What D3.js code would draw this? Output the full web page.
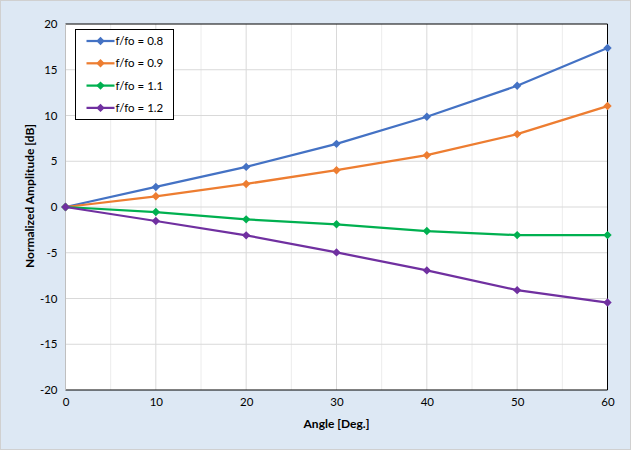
<!DOCTYPE html>
<html>
<head>
<meta charset="utf-8">
<script src="https://cdn.jsdelivr.net/npm/d3@7"></script>
<style>
  body { margin: 0; background: #fff; }
  text { font-family: Lato, "Open Sans", sans-serif; fill: #000; }
</style>
</head>
<body>
<div id="chart"></div>
<script>
(function(){

// data
var angles = [0, 10, 20, 30, 40, 50, 60];
var seriesNames = ["f/fo = 0.8", "f/fo = 0.9", "f/fo = 1.1", "f/fo = 1.2"];
var seriesColors = ["#4472c4", "#ed7d31", "#00b050", "#7030a0"];
var ampA = [0, 2.19, 4.38, 6.9, 9.86, 13.25, 17.38];
var ampB = [0, 1.17, 2.52, 4.02, 5.66, 7.96, 11.03];
var ampC = [0, -0.55, -1.35, -1.89, -2.63, -3.07, -3.07];
var ampD = [0, -1.53, -3.1, -4.96, -6.93, -9.09, -10.44];
var xTicks = [0, 10, 20, 30, 40, 50, 60];
var yTicks = [-20, -15, -10, -5, 0, 5, 10, 15, 20];

var allSeries = [ampA, ampB, ampC, ampD];

var W = 631, H = 450;
var margin = {top: 24, right: 23.5, bottom: 60, left: 65.5};
var width = W - margin.left - margin.right,
    height = 390 - margin.top;

var svg = d3.select("#chart").append("svg")
  .attr("width", W).attr("height", H);

svg.append("rect")
  .attr("x", 0.5).attr("y", 0.5)
  .attr("width", W - 1).attr("height", H - 1)
  .attr("fill", "#dde8f4")
  .attr("stroke", "#d0d0d0");

var g = svg.append("g")
  .attr("transform", "translate(" + margin.left + "," + margin.top + ")");

var x = d3.scaleLinear().domain([0, 60]).range([0, width]);
var y = d3.scaleLinear().domain([-20, 20]).range([height, 0]);

g.append("rect")
  .attr("width", width).attr("height", height)
  .attr("fill", "#fff");

// minor vertical grid
g.selectAll(".minor")
  .data(d3.range(5, 60, 10))
  .enter().append("line")
    .attr("x1", function(d){ return x(d) }).attr("x2", function(d){ return x(d) })
    .attr("y1", 0).attr("y2", height)
    .attr("stroke", "#ececec");

// major grid
g.selectAll(".vgrid")
  .data(xTicks.slice(1, -1))
  .enter().append("line")
    .attr("x1", function(d){ return x(d) }).attr("x2", function(d){ return x(d) })
    .attr("y1", 0).attr("y2", height)
    .attr("stroke", "#d9d9d9");

g.selectAll(".hgrid")
  .data(yTicks.slice(1, -1))
  .enter().append("line")
    .attr("x1", 0).attr("x2", width)
    .attr("y1", function(d){ return y(d) }).attr("y2", function(d){ return y(d) })
    .attr("stroke", "#d9d9d9");

// plot border
g.append("path")
  .attr("d", "M0,0H" + width + "V" + height + "H0")
  .attr("fill", "none")
  .attr("stroke", "#000");
g.append("line")
  .attr("x1", 0).attr("x2", 0).attr("y1", 0).attr("y2", height)
  .attr("stroke", "#bfbfbf");

// axes (plain hyphen for negatives, like the original)
var fmt = function(d){ return String(d) };
var xAxis = g.append("g")
  .attr("transform", "translate(0," + height + ")")
  .call(d3.axisBottom(x).tickValues(xTicks).tickFormat(fmt).tickSize(0).tickPadding(8));
var yAxis = g.append("g")
  .call(d3.axisLeft(y).tickValues(yTicks).tickFormat(fmt).tickSize(0).tickPadding(8));
[xAxis, yAxis].forEach(function(a){
  a.select(".domain").remove();
  a.selectAll("text").attr("font-size", "11.5px").attr("font-family", "Lato, sans-serif").attr("fill", "#000");
});

// lines + markers
var line = d3.line()
  .x(function(d, i){ return x(angles[i]) })
  .y(function(d){ return y(d) });

var diamond = d3.symbol().type(d3.symbolDiamond2).size(45);

allSeries.forEach(function(s, k){
  g.append("path")
    .datum(s)
    .attr("d", line)
    .attr("fill", "none")
    .attr("stroke", seriesColors[k])
    .attr("stroke-width", 2.25);
  g.selectAll(".pt" + k)
    .data(s)
    .enter().append("path")
      .attr("d", diamond)
      .attr("transform", function(d, i){ return "translate(" + x(angles[i]) + "," + y(d) + ")" })
      .attr("fill", seriesColors[k]);
});

// axis titles
svg.append("text")
  .attr("x", margin.left + width / 2).attr("y", 428)
  .attr("text-anchor", "middle")
  .attr("font-size", "12px").attr("font-weight", "bold")
  .text("Angle [Deg.]");

svg.append("text")
  .attr("transform", "translate(34,196) rotate(-90)")
  .attr("text-anchor", "middle")
  .attr("font-size", "12px").attr("font-weight", "bold")
  .text("Normalized Amplitude [dB]");

// legend
var leg = svg.append("g").attr("transform", "translate(75.5,29.5)");
leg.append("rect")
  .attr("width", 98).attr("height", 90)
  .attr("fill", "#fff").attr("stroke", "#000");
seriesNames.forEach(function(name, k){
  var ly = 11.5 + k * 22.3;
  leg.append("line")
    .attr("x1", 11).attr("x2", 39).attr("y1", ly).attr("y2", ly)
    .attr("stroke", seriesColors[k]).attr("stroke-width", 2.25);
  leg.append("path")
    .attr("d", diamond)
    .attr("transform", "translate(25," + ly + ")")
    .attr("fill", seriesColors[k]);
  leg.append("text")
    .attr("x", 40).attr("y", ly + 4)
    .attr("font-size", "11.5px")
    .text(name);
});

})();
</script>
</body>
</html>
